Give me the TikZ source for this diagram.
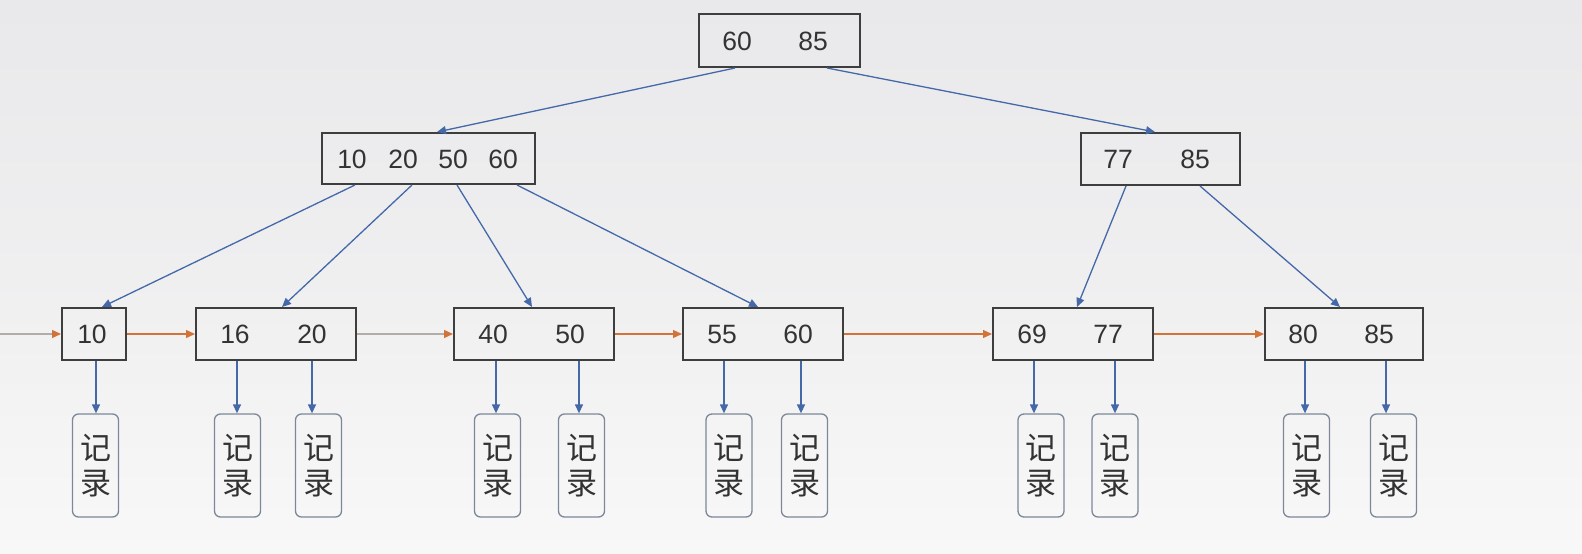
\documentclass[tikz,border=0pt]{standalone}
\usepackage{fontspec}
\setmainfont{Liberation Sans}
\newfontfamily\cjk{Noto Sans CJK SC}
\usetikzlibrary{arrows.meta}
\definecolor{bgtop}{HTML}{E9E9EB}
\definecolor{bgbot}{HTML}{F8F8F8}
\definecolor{boxline}{HTML}{3E3E3E}
\definecolor{txt}{HTML}{333333}
\definecolor{linkblue}{HTML}{4468A8}
\definecolor{linkorange}{HTML}{D2733A}
\definecolor{linkgray}{HTML}{B4ACA8}
\definecolor{recline}{HTML}{7C8898}
\tikzset{
  keybox/.style={draw=boxline, line width=2pt, fill=none, inner sep=0pt, minimum height=52pt},
  num/.style={font=\fontsize{26.5pt}{27pt}\selectfont, text=txt, inner sep=0pt, text height=19pt, text depth=0pt},
  recbox/.style={draw=recline, line width=1.3pt, rounded corners=6pt, minimum width=46pt, minimum height=103pt, inner sep=0pt,
     font=\cjk\fontsize{31pt}{35pt}\selectfont, text=txt, align=center},
  tree/.style={draw=linkblue, line width=1.3pt, -{Triangle[length=9pt,width=8pt]}},
  chain/.style={draw=linkorange, line width=1.3pt, -{Triangle[length=9pt,width=8pt]}},
  chaingray/.style={draw=linkgray, line width=1.3pt, -{Triangle[length=9pt,width=8pt,color=linkorange]}},
}
\begin{document}
\begin{tikzpicture}[x=1pt,y=-1pt]
\shade[top color=bgtop, bottom color=bgbot, middle color=bgtop!60!bgbot] (0,0) rectangle (1582,554);
\useasboundingbox (0,0) rectangle (1582,554);

% root
\node[keybox, minimum width=161pt, minimum height=53pt] (root) at (779.5,40.5) {};
\node[num] at (737,40.5) {60};
\node[num] at (813,40.5) {85};

% level 2
\node[keybox, minimum width=213pt, minimum height=51pt] (ia) at (428.5,158.5) {};
\node[num] at (352,158.5) {10};
\node[num] at (403,158.5) {20};
\node[num] at (453,158.5) {50};
\node[num] at (503,158.5) {60};

\node[keybox, minimum width=159pt] (ib) at (1160.5,159) {};
\node[num] at (1118,159) {77};
\node[num] at (1195,159) {85};

% leaves
\node[keybox, minimum width=64pt] (l1) at (94,334) {};
\node[num] at (92,334) {10};
\node[keybox, minimum width=160pt] (l2) at (276,334) {};
\node[num] at (235,334) {16};
\node[num] at (312,334) {20};
\node[keybox, minimum width=160pt] (l3) at (534,334) {};
\node[num] at (493,334) {40};
\node[num] at (570,334) {50};
\node[keybox, minimum width=160pt] (l4) at (763,334) {};
\node[num] at (722,334) {55};
\node[num] at (798,334) {60};
\node[keybox, minimum width=160pt] (l5) at (1073,334) {};
\node[num] at (1032,334) {69};
\node[num] at (1108,334) {77};
\node[keybox, minimum width=158pt] (l6) at (1344,334) {};
\node[num] at (1303,334) {80};
\node[num] at (1379,334) {85};

% records
\foreach \n/\x in {r1/95.5, r2/237.5, r3/318.5, r4/497.5, r5/581.5, r6/729, r7/804.5, r8/1041, r9/1115, r10/1306.5, r11/1393.5}{
  \node[recbox] (\n) at (\x,465.5) {记\\录};
}

% tree edges
\draw[tree] (root.south -| 735,0) -- (ia.north -| 437,0);
\draw[tree] (root.south -| 827,0) -- (ib.north -| 1155,0);
\draw[tree] (ia.south -| 355,0) -- (l1.north -| 102,0);
\draw[tree] (ia.south -| 412,0) -- (l2.north -| 282,0);
\draw[tree] (ia.south -| 457,0) -- (l3.north -| 532,0);
\draw[tree] (ia.south -| 517,0) -- (l4.north -| 758,0);
\draw[tree] (ib.south -| 1126,0) -- (l5.north -| 1077,0);
\draw[tree] (ib.south -| 1200,0) -- (l6.north -| 1340,0);

% record pointers
\draw[tree] (l1.south -| 96,0) -- (r1.north -| 96,0);
\draw[tree] (l2.south -| 237,0) -- (r2.north -| 237,0);
\draw[tree] (l2.south -| 312,0) -- (r3.north -| 312,0);
\draw[tree] (l3.south -| 496,0) -- (r4.north -| 496,0);
\draw[tree] (l3.south -| 579,0) -- (r5.north -| 579,0);
\draw[tree] (l4.south -| 724,0) -- (r6.north -| 724,0);
\draw[tree] (l4.south -| 801,0) -- (r7.north -| 801,0);
\draw[tree] (l5.south -| 1034,0) -- (r8.north -| 1034,0);
\draw[tree] (l5.south -| 1115,0) -- (r9.north -| 1115,0);
\draw[tree] (l6.south -| 1305,0) -- (r10.north -| 1305,0);
\draw[tree] (l6.south -| 1386,0) -- (r11.north -| 1386,0);

% leaf chain
\coordinate (start) at (0,334);
\draw[chaingray] (start) -- (l1.west);
\draw[chain] (l1.east) -- (l2.west);
\draw[chaingray] (l2.east) -- (l3.west);
\draw[chain] (l3.east) -- (l4.west);
\draw[chain] (l4.east) -- (l5.west);
\draw[chain] (l5.east) -- (l6.west);
\end{tikzpicture}
\end{document}
